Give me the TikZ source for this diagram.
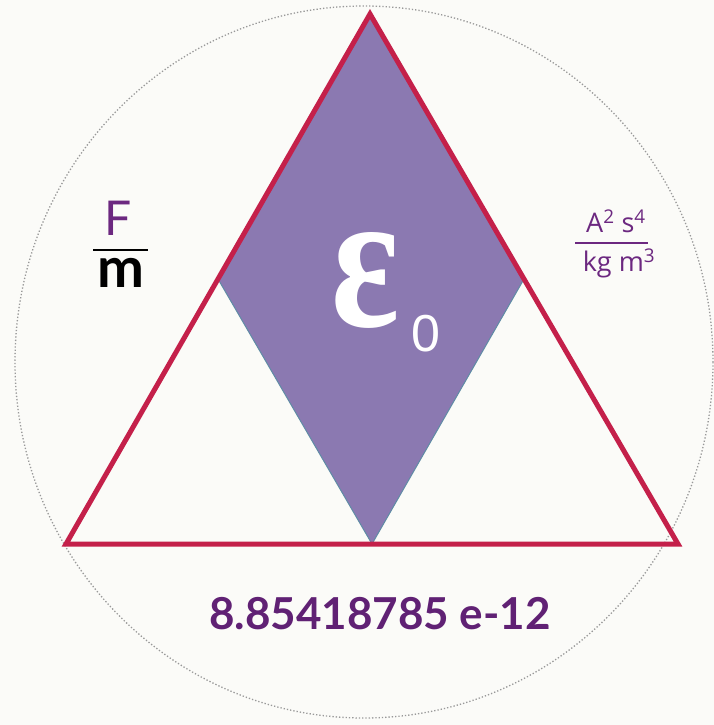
\documentclass[tikz,border=0pt]{standalone}
\usepackage{fontspec}
\usetikzlibrary{calc}
\setmainfont{Lato}
\newfontfamily\serifgr{Liberation Serif}
\newfontfamily\unitfont{Open Sans}
\newfontfamily\zerofont{Liberation Sans}
\definecolor{bgc}{RGB}{251,251,248}
\definecolor{trired}{RGB}{196,32,74}
\definecolor{rhombfill}{RGB}{139,121,177}
\definecolor{rhombedge}{RGB}{95,140,165}
\definecolor{txtpurple}{RGB}{108,40,128}
\definecolor{numpurple}{RGB}{96,33,116}
\tikzset{
  trianglestyle/.style={draw=trired, line width=5pt, line join=miter},
  rhombstyle/.style={fill=rhombfill, draw=rhombedge, line width=1pt},
  ringstyle/.style={draw=gray!80, dotted, line width=1.3pt},
  fracbar/.style={line width=2.6pt},
}
\begin{document}
\begin{tikzpicture}[x=1pt,y=-1pt]
\useasboundingbox (0,0) rectangle (714,725);
\fill[bgc] (0,0) rectangle (714,725);
\draw[ringstyle] (364,362) ellipse [x radius=349, y radius=356];
\coordinate (T) at (370,14);
\coordinate (L) at (66,544);
\coordinate (R) at (678,544);
\coordinate (ML) at ($(T)!0.5!(L)$);
\coordinate (MR) at ($(T)!0.5!(R)$);
\coordinate (MB) at ($(L)!0.5!(R)$);
\filldraw[rhombstyle] (T) -- (ML) -- (MB) -- (MR) -- cycle;
\draw[trianglestyle] (T) -- (L) -- (R) -- cycle;
% epsilon
\node[text=white, inner sep=0pt] (eps) at (366,280) {\resizebox{68pt}{94pt}{\serifgr\bfseries ε}};
\node[text=white, inner sep=0pt, font=\zerofont\fontsize{52}{52}\selectfont] (zero) at (426,334) {0};
% F over m
\node[text=txtpurple, inner sep=0pt, font=\fontsize{48}{48}\selectfont] (F) at (118,218) {F};
\coordinate (fbL) at (93,250);
\coordinate (fbR) at (148,250);
\draw[fracbar, black] (fbL) -- (fbR);
\node[text=black, inner sep=0pt, font=\bfseries\fontsize{56}{56}\selectfont] (m) at (121,273) {m};
% units
\node[text=txtpurple, inner sep=0pt, font=\unitfont\fontsize{27}{27}\selectfont] (num) at (616,221) {A\textsuperscript{2} s\textsuperscript{4}};
\coordinate (ubL) at (575,243);
\coordinate (ubR) at (648,243);
\draw[fracbar, txtpurple] (ubL) -- (ubR);
\node[text=txtpurple, inner sep=0pt, font=\unitfont\fontsize{27}{27}\selectfont] (den) at (619,263) {kg m\textsuperscript{3}};
% value
\node[text=numpurple, inner sep=0pt, font=\bfseries\fontsize{44}{44}\selectfont] (val) at (380,614) {8.85418785 e-12};
\end{tikzpicture}
\end{document}
